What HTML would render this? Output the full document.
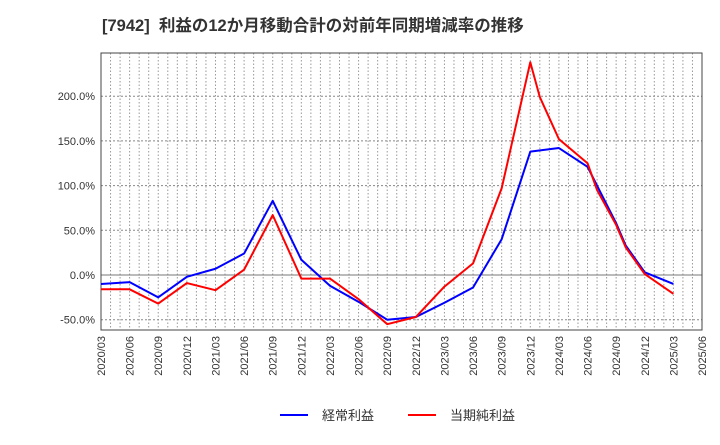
<!DOCTYPE html>
<html><head><meta charset="utf-8"><style>
body{margin:0;background:#fff;font-family:"Liberation Sans","Noto Sans CJK JP",sans-serif;}
svg text{font-family:"Liberation Sans","Noto Sans CJK JP",sans-serif;}
</style></head><body>
<svg id="c" width="720" height="440" xmlns="http://www.w3.org/2000/svg">
<text x="102" y="31" font-size="16.5" font-weight="bold" fill="#333" xml:space="preserve">[7942]  利益の12か月移動合計の対前年同期増減率の推移</text>
<g id="grid"></g><g id="axes"></g><g id="series"></g>
<g>
<line x1="280" y1="415" x2="308" y2="415" stroke="#0000ff" stroke-width="2"/>
<text x="322" y="420" font-size="13" fill="#333">経常利益</text>
<line x1="408" y1="415" x2="436" y2="415" stroke="#ff0000" stroke-width="2"/>
<text x="450" y="420" font-size="13" fill="#333">当期純利益</text>
</g>
</svg>
<script>
const xLabels=["2020/03","2020/06","2020/09","2020/12","2021/03","2021/06","2021/09","2021/12","2022/03","2022/06","2022/09","2022/12","2023/03","2023/06","2023/09","2023/12","2024/03","2024/06","2024/09","2024/12","2025/03","2025/06"];
const yTicks=[-50,0,50,100,150,200];
const blueMonths=[0,3,6,9,12,15,18,21,24,27,30,33,36,39,42,45,48,51,54,55,57,60];
const blueValues=[-10,-8,-25,-2,7,24,83,17,-12,-30,-50,-47,-31,-14,40,138,142,121,58,33,3,-10];
const redMonths=[0,3,6,9,12,15,18,21,24,27,30,33,36,39,42,45,46,48,51,52,54,55,57,60];
const redValues=[-16,-16,-32,-9,-17,6,67,-4,-4,-27,-55,-47,-13,13,97,238,199,152,125,95,56,31,1,-21];
const NS="http://www.w3.org/2000/svg";
const L=101,R=702,T=53,B=330;
const xs=m=>L+m*(R-L)/63;
const ys=v=>275-v*0.894;
function mk(tag,attrs,parent){const e=document.createElementNS(NS,tag);for(const k in attrs)e.setAttribute(k,attrs[k]);parent.appendChild(e);return e;}
const grid=document.getElementById('grid'),axes=document.getElementById('axes'),series=document.getElementById('series');
for(let m=1;m<63;m++){const l=mk('line',{x1:xs(m),x2:xs(m),y1:T,y2:B,stroke:'#999','stroke-dasharray':'1.5,2','stroke-width':1},grid);

}
[-50,50,100,150,200,250].forEach(v=>{if(ys(v)<T)return;const l=mk('line',{x1:L,x2:R,y1:ys(v),y2:ys(v),stroke:'#888','stroke-dasharray':'2,2','stroke-width':1},grid);

});
const z=mk('line',{x1:L,x2:R,y1:ys(0),y2:ys(0),stroke:'#777','stroke-width':1},grid);


const fr=mk('rect',{x:L,y:T,width:R-L,height:B-T,fill:'none',stroke:'#444','stroke-width':1},axes);


yTicks.forEach(v=>{const t=mk('text',{x:L-6,y:ys(v)+4,'font-size':11,'text-anchor':'end',fill:'#333'},axes);t.textContent=v.toFixed(1)+'%';

});
xLabels.forEach((s,i)=>{const x=xs(i*3);const t=mk('text',{x:0,y:0,'font-size':11,'text-anchor':'end',fill:'#333',transform:`translate(${x+4},${B+6}) rotate(-90)`},axes);t.textContent=s;

});
function line(ms,vs,col,name){const p=mk('polyline',{points:ms.map((m,i)=>xs(m)+','+ys(vs[i])).join(' '),fill:'none',stroke:col,'stroke-width':2,'stroke-linejoin':'round'},series);

}
line(blueMonths,blueValues,'#0000ff','ordinary-profit-line');
line(redMonths,redValues,'#ff0000','net-profit-line');
</script>
</body></html>
